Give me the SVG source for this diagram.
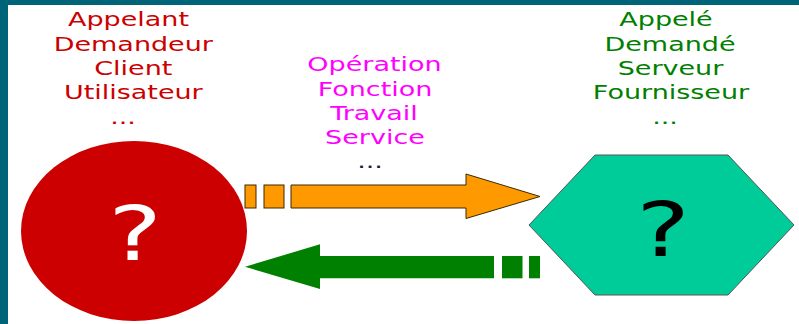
<svg xmlns="http://www.w3.org/2000/svg" width="799" height="324" viewBox="0 0 799 324">
<style>
text{font-family:"DejaVu Sans","Liberation Sans",sans-serif;font-size:20px;text-anchor:middle}
.red{fill:#CC0000}
.pink{fill:#FF00FF}
.green{fill:#008000}
.dots{fill:#1a1a40}
.q{font-size:75px}
.orange{fill:#FF9900;stroke:#3a2a00;stroke-width:1}
.greenarrow{fill:#008000}
</style>
<rect x="0" y="0" width="799" height="324" fill="#ffffff"/>
<rect x="0" y="0" width="799" height="5" fill="#006478"/>
<rect x="0" y="0" width="8" height="324" fill="#006478"/>

<g id="labels-client">
<text class="red" transform="translate(128.5,26) scale(1.35,1)">Appelant</text>
<text class="red" transform="translate(133.3,51) scale(1.35,1)">Demandeur</text>
<text class="red" transform="translate(133.3,75) scale(1.35,1)">Client</text>
<text class="red" transform="translate(133.3,99) scale(1.35,1)">Utilisateur</text>
<text class="red" transform="translate(123,124) scale(1.35,1)">...</text>
</g>

<g id="labels-operation">
<text class="pink" transform="translate(374.5,71) scale(1.35,1)">Opération</text>
<text class="pink" transform="translate(375,96) scale(1.35,1)">Fonction</text>
<text class="pink" transform="translate(374,120) scale(1.35,1)">Travail</text>
<text class="pink" transform="translate(375,144) scale(1.35,1)">Service</text>
<text class="dots" transform="translate(370,168) scale(1.35,1)">...</text>
</g>

<g id="labels-server">
<text class="green" transform="translate(666,26) scale(1.35,1)">Appelé</text>
<text class="green" transform="translate(670,51) scale(1.35,1)">Demandé</text>
<text class="green" transform="translate(670.5,75) scale(1.35,1)">Serveur</text>
<text class="green" transform="translate(671,99) scale(1.35,1)">Fournisseur</text>
<text class="green" transform="translate(665,124) scale(1.35,1)">...</text>
</g>

<g id="client">
<ellipse cx="134" cy="231" rx="113" ry="90" fill="#CC0000"/>
<text class="q" transform="translate(135,260) scale(1.35,1)" fill="#ffffff">?</text>
</g>

<g id="server">
<polygon points="529,225 595,155 728,155 794,225 728,295 595,295" fill="#00CC99" stroke="#555555" stroke-width="1"/>
<text class="q" transform="translate(663,256) scale(1.35,1)" fill="#000000">?</text>
</g>

<g id="connectors">
<rect class="orange" x="245" y="185" width="11" height="23"/>
<rect class="orange" x="264" y="185" width="20" height="23"/>
<path class="orange" d="M291,185 H466 V174 L540,196.5 L466,218.5 V208 H291 Z"/>
<path class="greenarrow" d="M245,266.7 L320,244.3 V256 H494 V278.3 H320 V289 Z"/>
<rect class="greenarrow" x="502" y="256" width="20.5" height="22.3"/>
<rect class="greenarrow" x="529" y="256" width="11" height="22.3"/>
</g>
</svg>
